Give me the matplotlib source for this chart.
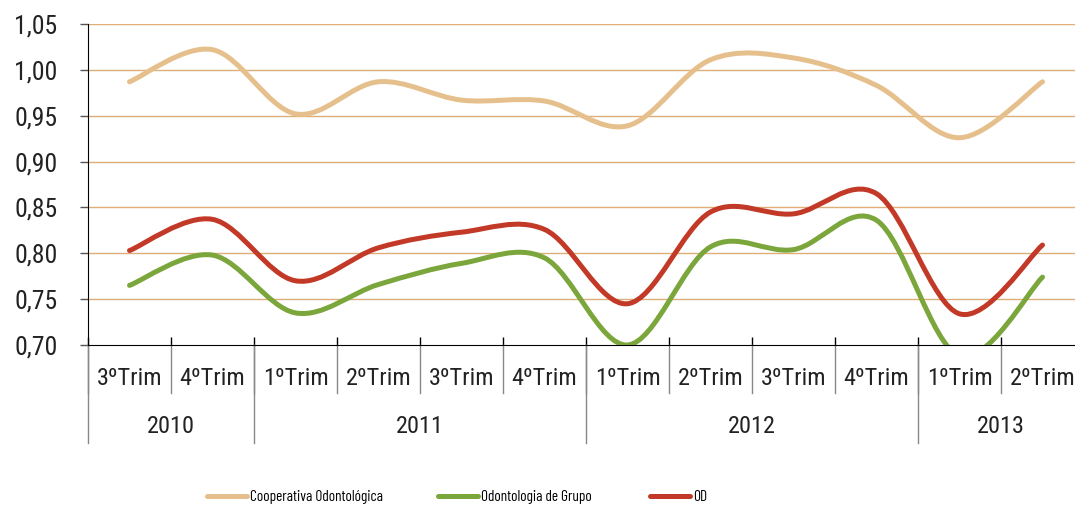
import matplotlib
matplotlib.use("Agg")
import matplotlib.pyplot as plt
from matplotlib.path import Path
from matplotlib.patches import PathPatch
from matplotlib.lines import Line2D
from matplotlib.transforms import blended_transform_factory

plt.rcParams['font.family'] = ['Roboto Condensed', 'Archivo Narrow', 'DejaVu Sans']
fonte_legenda = ['Barlow Condensed', 'Roboto Condensed']

# dados
trimestres = ["3ºTrim", "4ºTrim", "1ºTrim", "2ºTrim", "3ºTrim", "4ºTrim",
              "1ºTrim", "2ºTrim", "3ºTrim", "4ºTrim", "1ºTrim", "2ºTrim"]
anos = ["2010", "2011", "2012", "2013"]
trim_por_ano = [2, 4, 4, 2]

cooperativa = [0.987, 1.022, 0.952, 0.987, 0.967, 0.966,
               0.939, 1.011, 1.013, 0.983, 0.926, 0.987]
grupo = [0.765, 0.798, 0.735, 0.766, 0.789, 0.795,
         0.700, 0.807, 0.804, 0.836, 0.688, 0.774]
od = [0.803, 0.837, 0.770, 0.806, 0.823, 0.826,
      0.745, 0.845, 0.843, 0.865, 0.734, 0.809]

series = [("Cooperativa Odontológica", cooperativa, "#E6C08C"),
          ("Odontologia de Grupo", grupo, "#7BA63B"),
          ("OD", od, "#C23A27")]


def smooth_path(xs, ys):
    # curva suavizada estilo Excel (Bezier a partir dos pontos)
    pts = list(zip(xs, ys))
    n = len(pts)
    verts = [pts[0]]
    codes = [Path.MOVETO]
    for i in range(n - 1):
        p0 = pts[i - 1] if i > 0 else pts[i]
        p1 = pts[i]
        p2 = pts[i + 1]
        p3 = pts[i + 2] if i + 2 < n else pts[i + 1]
        c1 = (p1[0] + (p2[0] - p0[0]) / 6, p1[1] + (p2[1] - p0[1]) / 6)
        c2 = (p2[0] - (p3[0] - p1[0]) / 6, p2[1] - (p3[1] - p1[1]) / 6)
        verts += [c1, c2, p2]
        codes += [Path.CURVE4] * 3
    return Path(verts, codes)


fig = plt.figure(figsize=(10.75, 5.09), dpi=100)
ax = fig.add_axes([88 / 1075, 164 / 509, 996 / 1075, 321 / 509])

x = list(range(len(trimestres)))
ax.set_xlim(-0.5, len(trimestres) - 0.5)
ax.set_ylim(0.70, 1.05)

yt = [0.70, 0.75, 0.80, 0.85, 0.90, 0.95, 1.00, 1.05]
ax.set_yticks(yt)
ax.set_yticklabels([f"{v:.2f}".replace(".", ",") for v in yt], fontsize=18.5, color='#222222')
ax.tick_params(axis='y', length=6, width=1, color='#555555', pad=16)
for v in yt[1:]:
    ax.axhline(v, color='#DDAE78', lw=1, zorder=1)

for nome, vals, cor in series:
    patch = PathPatch(smooth_path(x, vals), fill=False, edgecolor=cor, lw=3.6,
                      capstyle='round', joinstyle='round', zorder=3)
    ax.add_patch(patch)

ax.spines['top'].set_visible(False)
ax.spines['right'].set_visible(False)
ax.spines['left'].set_color('black')
ax.spines['bottom'].set_color('black')

# eixo x de dois niveis
ax.set_xticks([i - 0.5 for i in range(len(trimestres) + 1)])
ax.set_xticklabels([])
ax.tick_params(axis='x', direction='in', length=6, width=1, color='black')

tr = blended_transform_factory(ax.transData, ax.transAxes)
for i, lab in enumerate(trimestres):
    ax.text(i, -0.103, lab, transform=tr, ha='center', va='center', fontsize=17.5, color='#222222')
    ax.plot([i - 0.5, i - 0.5], [0, -0.15], transform=tr, color='#888888', lw=1, clip_on=False)

inicio = 0
for ano, n in zip(anos, trim_por_ano):
    ax.text(inicio + n / 2 - 0.5, -0.255, ano, transform=tr, ha='center', va='center',
            fontsize=17.5, color='#222222')
    ax.plot([inicio - 0.5, inicio - 0.5], [0, -0.305], transform=tr, color='#888888',
            lw=1, clip_on=False)
    inicio += n

# legenda: uma entrada por vez, nas posicoes do original
inicio_legenda = [207, 438, 650]
for (nome, _, cor), px in zip(series, inicio_legenda):
    h = Line2D([], [], color=cor, lw=3.6, solid_capstyle='round')
    fig.legend([h], [nome], loc='center left', bbox_to_anchor=(px / 1075, 12 / 509),
               frameon=False, prop={'family': fonte_legenda, 'size': 11},
               handlelength=2.6, handletextpad=0.2, borderpad=0, borderaxespad=0)

fig.savefig("out.png", dpi=100)
